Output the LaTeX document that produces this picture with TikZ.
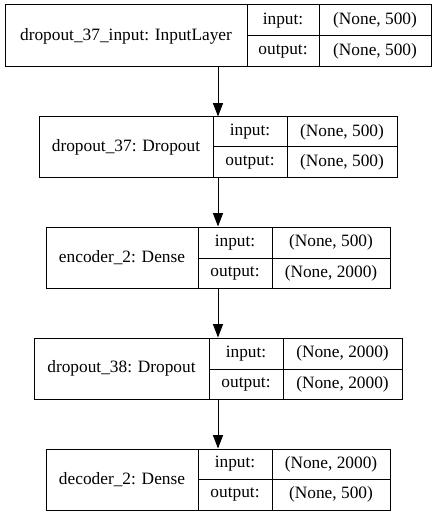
\documentclass[tikz,border=0pt]{standalone}
\usepackage{fontspec}
\setmainfont{Liberation Serif}
\usetikzlibrary{arrows.meta}
\begin{document}
\begin{tikzpicture}[x=0.75pt,y=-0.75pt,
  line width=0.75pt,
  frame/.style={draw=black, inner sep=0pt, anchor=center},
  cell/.style={draw=black, inner sep=0pt, anchor=center, font=\fontsize{13pt}{15pt}\selectfont},
  flow/.style={draw=black, -{Triangle[length=10pt,width=7.5pt]}}]
\useasboundingbox (0,0) rectangle (436,516);

% \cellnode{name}{x1}{x2}{y1}{y2}{text}
\newcommand\cellnode[6]{%
  \node[cell, minimum width={(#3-#2)*0.75pt}, minimum height={(#5-#4)*0.75pt}]
    (#1) at ({(#2+#3)/2},{(#4+#5)/2}) {#6};}
% \layerframe{name}{left}{right}{top}{bottom}
\newcommand\layerframe[5]{%
  \node[frame, minimum width={(#3-#2)*0.75pt}, minimum height={(#5-#4)*0.75pt}]
    (#1) at ({(#2+#3)/2},{(#4+#5)/2}) {};}

% dropout_37_input
\layerframe{L1}{5}{431}{5}{67}
\cellnode{L1n}{5}{247}{5}{67}{dropout\_37\_input: InputLayer}
\cellnode{L1a}{247}{319}{5}{36}{input:}
\cellnode{L1b}{247}{319}{36}{67}{output:}
\cellnode{L1c}{319}{431}{5}{36}{(None, 500)}
\cellnode{L1d}{319}{431}{36}{67}{(None, 500)}

% dropout_37
\layerframe{L2}{39}{397}{117}{178}
\cellnode{L2n}{39}{213}{117}{178}{dropout\_37: Dropout}
\cellnode{L2a}{213}{287}{117}{147}{input:}
\cellnode{L2b}{213}{287}{147}{178}{output:}
\cellnode{L2c}{287}{397}{117}{147}{(None, 500)}
\cellnode{L2d}{287}{397}{147}{178}{(None, 500)}

% encoder_2
\layerframe{L3}{46}{390}{227}{288}
\cellnode{L3n}{46}{198}{227}{288}{encoder\_2: Dense}
\cellnode{L3a}{198}{272}{227}{258}{input:}
\cellnode{L3b}{198}{272}{258}{288}{output:}
\cellnode{L3c}{272}{390}{227}{258}{(None, 500)}
\cellnode{L3d}{272}{390}{258}{288}{(None, 2000)}

% dropout_38
\layerframe{L4}{34}{402}{338}{399}
\cellnode{L4n}{34}{209}{338}{399}{dropout\_38: Dropout}
\cellnode{L4a}{209}{283}{338}{369}{input:}
\cellnode{L4b}{209}{283}{369}{399}{output:}
\cellnode{L4c}{283}{402}{338}{369}{(None, 2000)}
\cellnode{L4d}{283}{402}{369}{399}{(None, 2000)}

% decoder_2
\layerframe{L5}{46}{390}{449}{510}
\cellnode{L5n}{46}{198}{449}{510}{decoder\_2: Dense}
\cellnode{L5a}{198}{272}{449}{479}{input:}
\cellnode{L5b}{198}{272}{479}{510}{output:}
\cellnode{L5c}{272}{390}{449}{479}{(None, 2000)}
\cellnode{L5d}{272}{390}{479}{510}{(None, 500)}

% connections between layers
\draw[flow] (L1.south) -- (L2.north);
\draw[flow] (L2.south) -- (L3.north);
\draw[flow] (L3.south) -- (L4.north);
\draw[flow] (L4.south) -- (L5.north);
\end{tikzpicture}
\end{document}
